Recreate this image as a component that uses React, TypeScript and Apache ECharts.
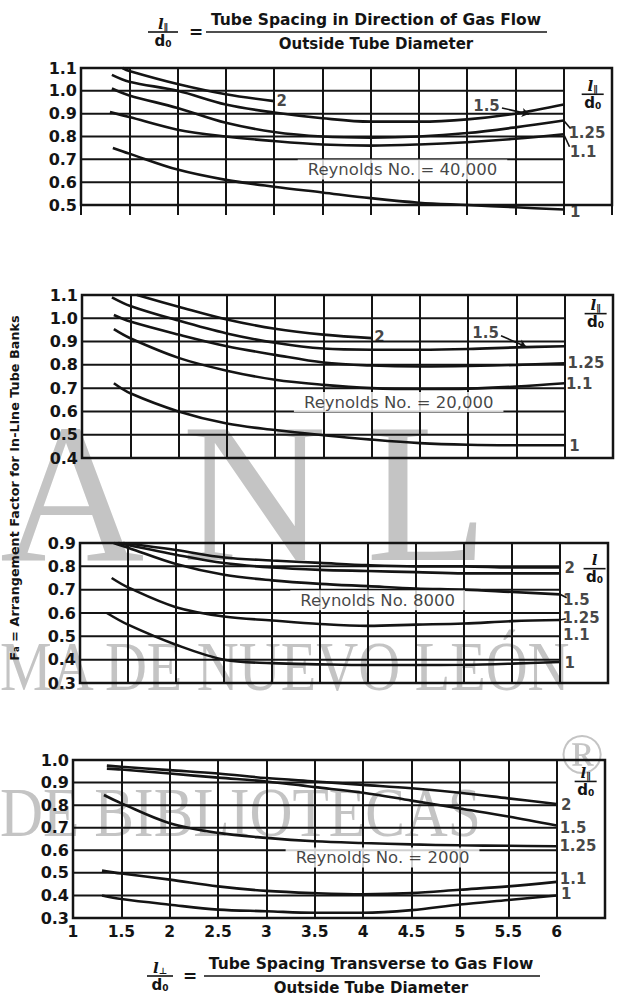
import React, { useEffect, useRef } from 'react';
import * as echarts from 'echarts';

// ---------- data (x = l_perp/d0, y = Fa) ----------
// Reynolds No. = 40,000
const RE40K_2 = [[1.43, 1.1], [1.5, 1.087], [2, 1.03], [2.5, 0.985], [3, 0.955]];
const RE40K_15 = [[1.32, 1.07], [1.5, 1.04], [2, 1.0], [2.5, 0.94], [3, 0.905], [3.5, 0.88], [4, 0.865], [4.5, 0.865], [5, 0.875], [5.5, 0.9], [6, 0.94]];
const RE40K_125 = [[1.32, 1.01], [1.5, 0.98], [2, 0.925], [2.5, 0.86], [3, 0.82], [3.5, 0.8], [4, 0.795], [4.5, 0.8], [5, 0.815], [5.5, 0.84], [6, 0.87]];
const RE40K_11 = [[1.3, 0.907], [1.5, 0.885], [2, 0.83], [2.5, 0.8], [3, 0.78], [3.5, 0.765], [4, 0.76], [4.5, 0.765], [5, 0.775], [5.5, 0.79], [6, 0.81]];
const RE40K_1 = [[1.33, 0.75], [1.5, 0.725], [2, 0.655], [2.5, 0.61], [3, 0.58], [3.5, 0.555], [4, 0.53], [4.5, 0.51], [5, 0.5], [5.5, 0.49], [6, 0.48]];

// Reynolds No. = 20,000
const RE20K_2 = [[1.57, 1.1], [2, 1.05], [2.5, 0.995], [3, 0.955], [3.5, 0.93], [4, 0.915]];
const RE20K_15 = [[1.31, 1.09], [1.5, 1.053], [2, 0.99], [2.5, 0.935], [3, 0.895], [3.5, 0.87], [4, 0.865], [4.5, 0.865], [5, 0.868], [5.5, 0.875], [6, 0.88]];
const RE20K_125 = [[1.33, 1.014], [1.5, 0.986], [2, 0.93], [2.5, 0.88], [3, 0.843], [3.5, 0.81], [4, 0.797], [4.5, 0.793], [5, 0.795], [5.5, 0.8], [6, 0.807]];
const RE20K_11 = [[1.33, 0.953], [1.5, 0.914], [2, 0.83], [2.5, 0.775], [3, 0.736], [3.5, 0.714], [4, 0.7], [4.5, 0.696], [5, 0.698], [5.5, 0.707], [6, 0.721]];
const RE20K_1 = [[1.33, 0.721], [1.5, 0.678], [2, 0.6], [2.5, 0.548], [3, 0.52], [3.5, 0.498], [4, 0.479], [4.5, 0.464], [5, 0.457], [5.5, 0.455], [6, 0.455]];

// Reynolds No. 8000
const RE8K_2 = [[1.45, 0.9], [2, 0.87], [2.5, 0.838], [3, 0.825], [3.5, 0.815], [4, 0.805], [4.5, 0.8], [5, 0.8], [5.5, 0.795], [6, 0.795]];
const RE8K_15 = [[1.4, 0.9], [2, 0.85], [2.5, 0.814], [3, 0.795], [3.5, 0.785], [4, 0.78], [4.5, 0.775], [5, 0.77], [5.5, 0.77], [6, 0.77]];
const RE8K_125 = [[1.35, 0.9], [1.5, 0.88], [2, 0.81], [2.5, 0.764], [3, 0.74], [3.5, 0.725], [4, 0.715], [4.5, 0.705], [5, 0.7], [5.5, 0.69], [6, 0.68]];
const RE8K_11 = [[1.33, 0.75], [1.5, 0.71], [2, 0.625], [2.5, 0.585], [3, 0.568], [3.5, 0.553], [4, 0.545], [4.5, 0.55], [5, 0.555], [5.5, 0.565], [6, 0.57]];
const RE8K_1 = [[1.28, 0.6], [1.5, 0.55], [2, 0.464], [2.5, 0.4], [3, 0.385], [3.5, 0.38], [4, 0.377], [4.5, 0.377], [5, 0.378], [5.5, 0.383], [6, 0.39]];

// Reynolds No. = 2000
const RE2K_2 = [[1.35, 0.975], [1.5, 0.97], [2, 0.955], [2.5, 0.94], [3, 0.92], [3.5, 0.905], [4, 0.89], [4.5, 0.875], [5, 0.855], [5.5, 0.83], [6, 0.805]];
const RE2K_15 = [[1.35, 0.962], [1.5, 0.958], [2, 0.94], [2.5, 0.922], [3, 0.905], [3.5, 0.88], [4, 0.855], [4.5, 0.82], [5, 0.785], [5.5, 0.75], [6, 0.71]];
const RE2K_125 = [[1.32, 0.845], [1.5, 0.808], [2, 0.72], [2.5, 0.677], [3, 0.655], [3.5, 0.64], [4, 0.632], [4.5, 0.626], [5, 0.622], [5.5, 0.62], [6, 0.618]];
const RE2K_11 = [[1.3, 0.51], [1.5, 0.497], [2, 0.47], [2.5, 0.44], [3, 0.42], [3.5, 0.41], [4, 0.405], [4.5, 0.41], [5, 0.425], [5.5, 0.44], [6, 0.46]];
const RE2K_1 = [[1.3, 0.4], [1.5, 0.384], [2, 0.359], [2.5, 0.337], [3, 0.33], [3.5, 0.323], [4, 0.323], [4.5, 0.335], [5, 0.36], [5.5, 0.38], [6, 0.4]];

// ---------- axes ----------
const X_MIN = 1;
const X_MAX = 6.5;
const X_STEP = 0.5;
const X_LAST_LABEL = 6;
const Y_STEP = 0.1;
const Y_TICKS_40K = [0.5, 0.6, 0.7, 0.8, 0.9, 1.0, 1.1];
const Y_TICKS_20K = [0.4, 0.5, 0.6, 0.7, 0.8, 0.9, 1.0, 1.1];
const Y_TICKS_8K = [0.3, 0.4, 0.5, 0.6, 0.7, 0.8, 0.9];
const Y_TICKS_2K = [0.3, 0.4, 0.5, 0.6, 0.7, 0.8, 0.9, 1.0];

// ---------- annotations ----------
const REYNOLDS = ['Reynolds No. = 40,000', 'Reynolds No. = 20,000', 'Reynolds No. 8000', 'Reynolds No. = 2000'];
const REYNOLDS_AT = [[4.33, 0.655], [4.28, 0.64], [4.1, 0.655], [4.2, 0.568]];

const LABELS_40K = [
  { t: '2', x: 3.08, y: 0.955 }, { t: '1.5', x: 5.2, y: 0.932 },
  { t: '1.25', x: 6.24, y: 0.815 }, { t: '1.1', x: 6.2, y: 0.73 }, { t: '1', x: 6.12, y: 0.468 },
];
const LEADERS_40K = [[5.36, 0.925, 5.64, 0.898, 1], [6.0, 0.87, 6.07, 0.835, 0], [6.0, 0.81, 6.06, 0.755, 0]];
const LABELS_20K = [
  { t: '2', x: 4.08, y: 0.918 }, { t: '1.5', x: 5.18, y: 0.935 },
  { t: '1.25', x: 6.22, y: 0.807 }, { t: '1.1', x: 6.15, y: 0.717 }, { t: '1', x: 6.1, y: 0.45 },
];
const LEADERS_20K = [[5.34, 0.925, 5.6, 0.878, 1]];
const LABELS_8K = [
  { t: '2', x: 6.1, y: 0.792 }, { t: '1.5', x: 6.17, y: 0.655 },
  { t: '1.25', x: 6.22, y: 0.578 }, { t: '1.1', x: 6.17, y: 0.505 }, { t: '1', x: 6.1, y: 0.385 },
];
const LEADERS_8K = [[6.0, 0.68, 6.07, 0.665, 0], [6.0, 0.57, 6.06, 0.575, 0]];
const LABELS_2K = [
  { t: '2', x: 6.1, y: 0.8 }, { t: '1.5', x: 6.17, y: 0.7 },
  { t: '1.25', x: 6.22, y: 0.617 }, { t: '1.1', x: 6.17, y: 0.472 }, { t: '1', x: 6.1, y: 0.405 },
];
const LEADERS_2K: number[][] = [];

const PANEL_DATA = [
  { curves: [RE40K_2, RE40K_15, RE40K_125, RE40K_11, RE40K_1], ticks: Y_TICKS_40K, labels: LABELS_40K, leaders: LEADERS_40K },
  { curves: [RE20K_2, RE20K_15, RE20K_125, RE20K_11, RE20K_1], ticks: Y_TICKS_20K, labels: LABELS_20K, leaders: LEADERS_20K },
  { curves: [RE8K_2, RE8K_15, RE8K_125, RE8K_11, RE8K_1], ticks: Y_TICKS_8K, labels: LABELS_8K, leaders: LEADERS_8K },
  { curves: [RE2K_2, RE2K_15, RE2K_125, RE2K_11, RE2K_1], ticks: Y_TICKS_2K, labels: LABELS_2K, leaders: LEADERS_2K },
];

// ---------- layout ----------
const LAYOUT = [
  { left: 81, top: 68, width: 531, height: 137, frac: [6.3, 0.985] },
  { left: 82, top: 295, width: 531, height: 163, frac: [6.32, 1.02] },
  { left: 80, top: 543, width: 528, height: 140, frac: [6.36, 0.79] },
  { left: 73, top: 760, width: 532, height: 158, frac: [6.3, 0.905] },
];
const INK = '#141414';
const FONT = "'DejaVu Sans', sans-serif";
const WM = '#c4c4c4';

function fraction(cx: number, cy: number, num: string, numSub: string, den: string, denSub: string, barW: number, fs: number) {
  const rich = {
    m: { fontSize: fs, fontStyle: 'italic', fontWeight: 'bold', fontFamily: "'DejaVu Serif', serif", fill: INK, color: INK },
    d: { fontSize: fs, fontWeight: 'bold', fontFamily: FONT, fill: INK, color: INK },
    s: { fontSize: Math.round(fs * 0.6), fontWeight: 'bold', fontFamily: FONT, verticalAlign: 'bottom', fill: INK, color: INK },
  };
  return [
    { type: 'text', x: cx, y: cy - 1, z: 10, style: { text: `{m|${num}}{s|${numSub}}`, rich, align: 'center', verticalAlign: 'bottom', fill: INK } },
    { type: 'line', z: 10, shape: { x1: cx - barW / 2, y1: cy, x2: cx + barW / 2, y2: cy }, style: { stroke: INK, lineWidth: 1.6 } },
    { type: 'text', x: cx, y: cy + 1, z: 10, style: { text: `{d|${den}}{s|${denSub}}`, rich, align: 'center', verticalAlign: 'top', fill: INK } },
  ];
}

export default function App() {
  const ref = useRef<HTMLDivElement>(null);
  useEffect(() => {
    if (!ref.current) return;
    const chart = echarts.init(ref.current, null, { renderer: 'svg' });

    const grids: any[] = [];
    const xAxes: any[] = [];
    const yAxes: any[] = [];
    const series: any[] = [];
    const graphics: any[] = [];

    PANEL_DATA.forEach((p, i) => {
      const L = LAYOUT[i];
      const ymin = p.ticks[0];
      const ymax = p.ticks[p.ticks.length - 1];
      grids.push({
        left: L.left, top: L.top, width: L.width, height: L.height,
        show: true, borderColor: INK, borderWidth: 2.5, backgroundColor: 'transparent',
        containLabel: false, outerBoundsMode: 'none',
      });
      xAxes.push({
        type: 'value', gridIndex: i, min: X_MIN, max: X_MAX, interval: X_STEP,
        axisLine: { show: false },
        axisTick: { show: i === 0, length: 10, lineStyle: { color: INK, width: 2 } },
        splitLine: { show: true, lineStyle: { color: INK, width: 2 } },
        axisLabel: {
          show: i === 3, margin: 6, color: INK, fontSize: 15.5, fontWeight: 'bold', fontFamily: FONT,
          formatter: (v: number) => (v > X_LAST_LABEL + 0.01 ? '' : String(v)),
        },
      });
      yAxes.push({
        type: 'value', gridIndex: i, min: ymin, max: ymax, interval: Y_STEP,
        axisLine: { show: false }, axisTick: { show: false }, splitLine: { show: false },
        axisLabel: {
          margin: 4, color: INK, fontSize: 16, fontWeight: 'bold', fontFamily: FONT,
          formatter: (v: number) => v.toFixed(1),
        },
      });
      // horizontal grid lines, only across the plotting region (x = 1 .. 6)
      series.push({
        type: 'custom', xAxisIndex: i, yAxisIndex: i, silent: true, z: 1,
        data: p.ticks.map((v) => [X_MIN, v]),
        encode: { x: 0, y: 1 },
        renderItem: (_params: any, api: any) => {
          const v = api.value(1);
          const a = api.coord([X_MIN, v]);
          const b = api.coord([X_LAST_LABEL, v]);
          return { type: 'line', shape: { x1: a[0], y1: a[1], x2: b[0], y2: b[1] }, style: { stroke: INK, lineWidth: 2 } };
        },
      });
      p.curves.forEach((c) => {
        series.push({
          type: 'line', xAxisIndex: i, yAxisIndex: i, data: c, smooth: 0.35, clip: false,
          symbol: 'none', showSymbol: false, silent: true, z: 3,
          lineStyle: { color: INK, width: 2.6 },
        });
      });
      series.push({
        type: 'scatter', xAxisIndex: i, yAxisIndex: i, silent: true, z: 6, clip: false,
        symbolSize: 1, itemStyle: { color: 'rgba(0,0,0,0)' },
        data: p.labels.map((l) => ({ value: [l.x, l.y], name: l.t })),
        label: { show: true, position: 'inside', formatter: '{b}', color: INK, fontSize: 15, fontWeight: 'bold', fontFamily: FONT },
        markLine: {
          silent: true, animation: false, symbolSize: 7,
          lineStyle: { color: INK, width: 1.6, type: 'solid' },
          label: { show: false },
          data: p.leaders.map((d) => [
            { coord: [d[0], d[1]], symbol: 'none' },
            { coord: [d[2], d[3]], symbol: d[4] ? 'arrow' : 'none' },
          ]),
        },
      });
      series.push({
        type: 'scatter', xAxisIndex: i, yAxisIndex: i, silent: true, z: 5,
        symbolSize: 1, itemStyle: { color: 'rgba(0,0,0,0)' },
        data: [{ value: REYNOLDS_AT[i], name: REYNOLDS[i] }],
        label: {
          show: true, position: 'inside', formatter: '{b}', color: INK, fontSize: 16.5, fontFamily: FONT,
          backgroundColor: '#ffffff', padding: [2, 10, 1, 10],
        },
      });
      // column header  l∥ / d0
      const px = L.left + ((L.frac[0] - X_MIN) / (X_MAX - X_MIN)) * L.width;
      const py = L.top + ((ymax - L.frac[1]) / (ymax - ymin)) * L.height;
      graphics.push(...fraction(px, py, 'l', i === 2 ? '' : '∥', 'd', '0', 22, 15));
    });

    // watermark (behind everything)
    const wmText = (text: string, x: number, top: number, size: number, sx: number) => ({
      type: 'text', x, y: top, z: -5, zlevel: 0, scaleX: sx, silent: true,
      style: { text, fill: WM, fontSize: size, fontFamily: "'Liberation Serif', serif", verticalAlign: 'top', align: 'left' },
    });
    graphics.push(
      wmText('A', 0, 392, 200, 1),
      wmText('N', 182, 392, 200, 1),
      wmText('L', 366, 392, 200, 1),
      wmText('MA DE NUEVO LEÓN', 0, 632, 70, 0.83),
      wmText('DE BIBLIOTECAS', 0, 777, 70, 0.85),
      { type: 'text', x: 582, y: 753, z: -5, silent: true, style: { text: '®', fill: WM, fontSize: 58, fontFamily: "'Liberation Serif', serif", align: 'center', verticalAlign: 'middle' } },
    );

    // top title
    graphics.push(...fraction(163, 32, 'l', '∥', 'd', '0', 30, 15));
    graphics.push(
      { type: 'text', x: 196, y: 32, style: { text: '=', fontSize: 17, fontWeight: 'bold', fontFamily: FONT, fill: INK, align: 'center', verticalAlign: 'middle' } },
      { type: 'text', x: 376, y: 28, style: { text: 'Tube Spacing in Direction of Gas Flow', fontSize: 15.5, fontWeight: 'bold', fontFamily: FONT, fill: INK, align: 'center', verticalAlign: 'bottom' } },
      { type: 'line', shape: { x1: 206, y1: 32, x2: 547, y2: 32 }, style: { stroke: INK, lineWidth: 1.6 } },
      { type: 'text', x: 376, y: 36, style: { text: 'Outside Tube Diameter', fontSize: 15, fontWeight: 'bold', fontFamily: FONT, fill: INK, align: 'center', verticalAlign: 'top' } },
    );
    // bottom title
    graphics.push(...fraction(160, 976, 'l', '⊥', 'd', '0', 26, 15));
    graphics.push(
      { type: 'text', x: 190, y: 976, style: { text: '=', fontSize: 17, fontWeight: 'bold', fontFamily: FONT, fill: INK, align: 'center', verticalAlign: 'middle' } },
      { type: 'text', x: 371, y: 972, style: { text: 'Tube Spacing Transverse to Gas Flow', fontSize: 15.5, fontWeight: 'bold', fontFamily: FONT, fill: INK, align: 'center', verticalAlign: 'bottom' } },
      { type: 'line', shape: { x1: 204, y1: 976, x2: 540, y2: 976 }, style: { stroke: INK, lineWidth: 1.6 } },
      { type: 'text', x: 371, y: 980, style: { text: 'Outside Tube Diameter', fontSize: 15, fontWeight: 'bold', fontFamily: FONT, fill: INK, align: 'center', verticalAlign: 'top' } },
    );
    // y title
    graphics.push({
      type: 'text', x: 14, y: 488, rotation: Math.PI / 2,
      style: {
        text: '{m|F}{s|a}{m| = Arrangement Factor for In-Line Tube Banks}',
        rich: {
          m: { fontSize: 12.8, fontWeight: 'bold', fontFamily: FONT, fill: INK, color: INK },
          s: { fontSize: 8.5, fontWeight: 'bold', fontFamily: FONT, verticalAlign: 'bottom', fill: INK, color: INK },
        },
        align: 'center', verticalAlign: 'middle', fill: INK,
      },
    });

    chart.setOption({
      animation: false,
      backgroundColor: '#ffffff',
      textStyle: { fontFamily: FONT },
      grid: grids,
      xAxis: xAxes,
      yAxis: yAxes,
      series,
      graphic: { elements: graphics },
    });
    return () => chart.dispose();
  }, []);
  return <div ref={ref} style={{ position: 'fixed', left: 0, top: 0, width: 618, height: 1003 }} />;
}
